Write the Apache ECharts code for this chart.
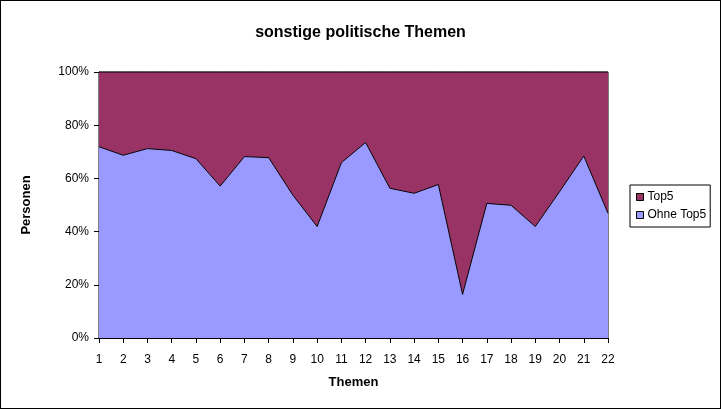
<!DOCTYPE html>
<html><head><meta charset="utf-8">
<script src="https://cdn.jsdelivr.net/npm/echarts@6/dist/echarts.min.js"></script>
<style>html,body{margin:0;padding:0;background:#fff}#c{width:721px;height:409px;box-sizing:border-box;border:1px solid #000}</style>
</head><body><div id="c"></div>
<script>
const categories = ['1','2','3','4','5','6','7','8','9','10','11','12','13','14','15','16','17','18','19','20','21','22'];
const ohneTop5 = [71.9,68.7,71.2,70.5,67.4,57.1,68.2,67.8,53.7,41.9,65.9,73.5,56.3,54.4,57.7,16.4,50.6,49.9,41.9,55.0,68.4,46.9];
const top5 = ohneTop5.map(v => +(100 - v).toFixed(1));
const yTicks = [0,20,40,60,80,100];

const chart = echarts.init(document.getElementById('c'));
const font = 'Liberation Sans, Arial, sans-serif';
chart.setOption({
  animation:false,
  backgroundColor:'#fff',
  textStyle:{fontFamily:font},
  title:{text:'sonstige politische Themen',left:'center',top:19,
    textStyle:{fontFamily:font,fontSize:16,fontWeight:'bold',color:'#000'}},
  grid:{left:98,right:112,top:71,bottom:70,show:true,borderColor:'#000',borderWidth:1,backgroundColor:'transparent'},
  legend:{orient:'vertical',left:629,top:184,padding:[6,4,6,6],itemGap:6,itemWidth:7,itemHeight:7,
    borderColor:'#000',borderWidth:1,
    textStyle:{fontFamily:font,fontSize:12,lineHeight:12,color:'#000',padding:[0,0,0,-1]},
    data:[{name:'Top5',icon:'rect',itemStyle:{borderColor:'#000',borderWidth:1}},
          {name:'Ohne Top5',icon:'rect',itemStyle:{borderColor:'#000',borderWidth:1}}]},
  xAxis:{type:'category',data:categories,boundaryGap:false,
    name:'Themen',nameLocation:'middle',nameGap:38,
    nameTextStyle:{fontFamily:font,fontSize:13,fontWeight:'bold',color:'#000'},
    axisLine:{lineStyle:{color:'#000',width:1}},
    axisTick:{show:true,inside:false,length:5,alignWithLabel:true,lineStyle:{color:'#000'}},
    axisLabel:{color:'#000',fontSize:12,fontFamily:font,margin:16,interval:0},
    splitLine:{show:false}},
  yAxis:{type:'value',min:0,max:100,interval:20,
    name:'Personen',nameLocation:'middle',nameGap:66,nameRotate:90,
    nameTextStyle:{fontFamily:font,fontSize:13,fontWeight:'bold',color:'#000'},
    axisLine:{show:true,lineStyle:{color:'#000',width:1}},
    axisTick:{show:true,length:5,lineStyle:{color:'#000'}},
    axisLabel:{color:'#000',fontSize:12,fontFamily:font,margin:10,formatter:v=>yTicks.includes(v)?v+'%':''},
    splitLine:{show:false}},
  series:[
    {name:'Ohne Top5',type:'line',stack:'a',data:ohneTop5,symbol:'none',
      lineStyle:{color:'#000',width:1},itemStyle:{color:'#9999ff'},areaStyle:{color:'#9999ff',opacity:1}},
    {name:'Top5',type:'line',stack:'a',data:top5,symbol:'none',
      lineStyle:{color:'#000',width:1},itemStyle:{color:'#993366'},areaStyle:{color:'#993366',opacity:1}}
  ]
});
</script></body></html>
